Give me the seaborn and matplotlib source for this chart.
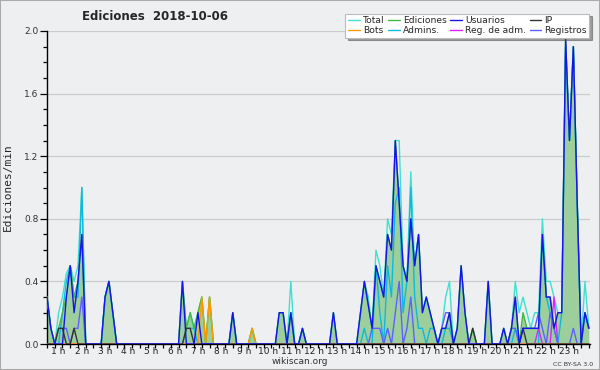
import numpy as np
import pandas as pd
import matplotlib
matplotlib.use("Agg")
from matplotlib import pyplot as plt
from matplotlib.lines import Line2D
from matplotlib.patches import Rectangle
import seaborn as sns

# Ediciones por tramos de 10 minutos (desde 00:30), ediciones/min
usuarios = [0.3, 0.1, 0, 0, 0, 0.3, 0.5, 0.2, 0.4, 0.7,
            0, 0, 0, 0, 0, 0.3, 0.4, 0.2, 0, 0,
            0, 0, 0, 0, 0, 0, 0, 0, 0, 0,
            0, 0, 0, 0, 0, 0.4, 0, 0, 0, 0.2,
            0, 0, 0, 0, 0, 0, 0, 0, 0.2, 0,
            0, 0, 0, 0, 0, 0, 0, 0, 0, 0,
            0.2, 0.2, 0, 0.2, 0, 0, 0.1, 0, 0, 0,
            0, 0, 0, 0, 0.2, 0, 0, 0, 0, 0,
            0, 0.2, 0.4, 0.25, 0.1, 0.5, 0.4, 0.3, 0.7, 0.6,
            1.3, 0.9, 0.5, 0.4, 0.8, 0.5, 0.7, 0.2, 0.3, 0.2,
            0.1, 0, 0.1, 0.1, 0.2, 0, 0.1, 0.5, 0.2, 0,
            0, 0, 0, 0, 0.4, 0, 0, 0, 0.1, 0,
            0.1, 0.3, 0, 0.1, 0.1, 0.1, 0.1, 0.1, 0.7, 0.3,
            0.3, 0.1, 0.2, 0.2, 1.95, 1.3, 1.9, 0.9, 0, 0.2,
            0.1]

total = [0.3, 0.1, 0, 0.2, 0.3, 0.45, 0.5, 0.4, 0.5, 1.0,
         0, 0, 0, 0, 0, 0.3, 0.4, 0.2, 0, 0,
         0, 0, 0, 0, 0, 0, 0, 0, 0, 0,
         0, 0, 0, 0, 0, 0.4, 0.1, 0.2, 0.1, 0.2,
         0.3, 0, 0.3, 0, 0, 0, 0, 0, 0.2, 0,
         0, 0, 0, 0.1, 0, 0, 0, 0, 0, 0,
         0.2, 0.2, 0, 0.4, 0, 0, 0.1, 0, 0, 0,
         0, 0, 0, 0, 0.2, 0, 0, 0, 0, 0,
         0, 0.2, 0.4, 0.3, 0.1, 0.6, 0.5, 0.3, 0.8, 0.7,
         1.3, 1.3, 0.5, 0.4, 1.1, 0.5, 0.7, 0.2, 0.3, 0.2,
         0.1, 0, 0.1, 0.3, 0.4, 0, 0.1, 0.5, 0.2, 0,
         0.1, 0, 0, 0, 0.4, 0, 0, 0, 0.1, 0,
         0.1, 0.4, 0.2, 0.3, 0.2, 0.1, 0.2, 0.2, 0.8, 0.4,
         0.4, 0.3, 0.2, 0.2, 1.9, 1.3, 1.9, 0.9, 0, 0.4,
         0.1]

ediciones = [0.3, 0.1, 0, 0.1, 0.2, 0.3, 0.5, 0.3, 0.4, 0.7,
             0, 0, 0, 0, 0, 0.3, 0.4, 0.2, 0, 0,
             0, 0, 0, 0, 0, 0, 0, 0, 0, 0,
             0, 0, 0, 0, 0, 0.4, 0.1, 0.2, 0.1, 0.2,
             0.3, 0, 0.3, 0, 0, 0, 0, 0, 0.2, 0,
             0, 0, 0, 0.1, 0, 0, 0, 0, 0, 0,
             0.2, 0.2, 0, 0.2, 0, 0, 0.1, 0, 0, 0,
             0, 0, 0, 0, 0.2, 0, 0, 0, 0, 0,
             0, 0.2, 0.4, 0.25, 0.1, 0.5, 0.4, 0.3, 0.7, 0.6,
             1.3, 0.9, 0.5, 0.4, 0.8, 0.5, 0.7, 0.2, 0.3, 0.2,
             0.1, 0, 0.1, 0.1, 0.2, 0, 0.1, 0.5, 0.2, 0,
             0.1, 0, 0, 0, 0.4, 0, 0, 0, 0.1, 0,
             0.1, 0.3, 0, 0.2, 0.1, 0.1, 0.1, 0.1, 0.7, 0.3,
             0.3, 0.1, 0.2, 0.2, 1.95, 1.3, 1.9, 0.9, 0, 0.2,
             0.1]

ip = [0, 0, 0, 0.1, 0.1, 0, 0, 0.1, 0, 0,
      0, 0, 0, 0, 0, 0, 0, 0, 0, 0,
      0, 0, 0, 0, 0, 0, 0, 0, 0, 0,
      0, 0, 0, 0, 0, 0, 0.1, 0.1, 0, 0,
      0, 0, 0, 0, 0, 0, 0, 0, 0, 0,
      0, 0, 0, 0, 0, 0, 0, 0, 0, 0,
      0, 0, 0, 0, 0, 0, 0, 0, 0, 0,
      0, 0, 0, 0, 0, 0, 0, 0, 0, 0,
      0, 0, 0, 0, 0, 0, 0, 0, 0, 0,
      0, 0, 0, 0, 0, 0, 0, 0, 0, 0,
      0, 0, 0, 0, 0, 0, 0, 0, 0, 0,
      0.1, 0, 0, 0, 0, 0, 0, 0, 0, 0,
      0, 0, 0, 0.1, 0, 0, 0, 0, 0, 0,
      0, 0, 0, 0, 0, 0, 0, 0, 0, 0,
      0]

bots = [0, 0, 0, 0, 0, 0, 0, 0, 0, 0,
        0, 0, 0, 0, 0, 0, 0, 0, 0, 0,
        0, 0, 0, 0, 0, 0, 0, 0, 0, 0,
        0, 0, 0, 0, 0, 0, 0, 0, 0, 0,
        0.3, 0, 0.3, 0, 0, 0, 0, 0, 0, 0,
        0, 0, 0, 0.1, 0, 0, 0, 0, 0, 0,
        0, 0, 0, 0, 0, 0, 0, 0, 0, 0,
        0, 0, 0, 0, 0, 0, 0, 0, 0, 0,
        0, 0, 0, 0, 0, 0, 0, 0, 0, 0,
        0, 0, 0, 0, 0, 0, 0, 0, 0, 0,
        0, 0, 0, 0, 0, 0, 0, 0, 0, 0,
        0, 0, 0, 0, 0, 0, 0, 0, 0, 0,
        0, 0, 0, 0, 0, 0, 0, 0, 0, 0,
        0, 0, 0, 0, 0, 0, 0, 0, 0, 0,
        0]

admins = [0.3, 0.1, 0, 0, 0.2, 0.4, 0.5, 0.3, 0.3, 1.0,
          0, 0, 0, 0, 0, 0.3, 0.4, 0.2, 0, 0,
          0, 0, 0, 0, 0, 0, 0, 0, 0, 0,
          0, 0, 0, 0, 0, 0, 0.1, 0.1, 0.1, 0,
          0, 0, 0, 0, 0, 0, 0, 0, 0.2, 0,
          0, 0, 0, 0, 0, 0, 0, 0, 0, 0,
          0, 0, 0, 0.2, 0, 0, 0.1, 0, 0, 0,
          0, 0, 0, 0, 0, 0, 0, 0, 0, 0,
          0, 0, 0.1, 0, 0, 0.5, 0.2, 0, 0.5, 0.3,
          0.9, 1.0, 0.2, 0.4, 1.0, 0.3, 0.1, 0.1, 0, 0.1,
          0.1, 0, 0, 0.1, 0.1, 0, 0, 0, 0, 0,
          0, 0, 0, 0, 0, 0, 0, 0, 0, 0,
          0, 0.1, 0, 0, 0, 0, 0, 0, 0.7, 0.3,
          0.2, 0.1, 0, 0.2, 1.9, 1.3, 1.9, 0.9, 0, 0.2,
          0.1]

reg_adm = [0] * 127 + [0.1, 0, 0, 0, 0.3, 0, 0, 0, 0, 0, 0, 0, 0, 0]

registros = [0, 0, 0, 0.1, 0.1, 0.1, 0, 0.1, 0.1, 0.3,
             0, 0, 0, 0, 0, 0, 0, 0, 0, 0,
             0, 0, 0, 0, 0, 0, 0, 0, 0, 0,
             0, 0, 0, 0, 0, 0, 0, 0, 0, 0,
             0, 0, 0, 0, 0, 0, 0, 0, 0, 0,
             0, 0, 0, 0, 0, 0, 0, 0, 0, 0,
             0, 0, 0, 0, 0, 0, 0, 0, 0, 0,
             0, 0, 0, 0, 0, 0, 0, 0, 0, 0,
             0, 0, 0, 0, 0.1, 0.1, 0.1, 0, 0.1, 0,
             0.2, 0.4, 0, 0.1, 0.3, 0, 0, 0, 0, 0,
             0, 0, 0.1, 0.2, 0.2, 0, 0, 0, 0, 0,
             0, 0, 0, 0, 0, 0, 0, 0, 0, 0,
             0.1, 0.1, 0, 0.1, 0.1, 0.1, 0.1, 0.2, 0.1, 0,
             0.2, 0.1, 0, 0, 0, 0, 0.1, 0, 0, 0.2,
             0.1]

horas = list(range(1, 24))

colores = {
    "Total": "#40e0d0",
    "Ediciones": "#44b844",
    "Usuarios": "#1414ee",
    "IP": "#333333",
    "Bots": "#ff9900",
    "Admins.": "#10b8dc",
    "Reg. de adm.": "#dd22ff",
    "Registros": "#6060ff",
}
series = {
    "Total": total, "Ediciones": ediciones, "Usuarios": usuarios, "IP": ip,
    "Bots": bots, "Admins.": admins, "Reg. de adm.": reg_adm, "Registros": registros,
}

frames = []
for nombre, vals in series.items():
    frames.append(pd.DataFrame({"tramo": np.arange(len(vals)), "valor": vals, "serie": nombre}))
df = pd.concat(frames, ignore_index=True)

sns.set_theme(style="white")
plt.rcParams["font.family"] = ["DejaVu Sans"]
bg = "#eeeff1"

fig = plt.figure(figsize=(6, 3.7), dpi=100, facecolor=bg)
ax = fig.add_axes([47 / 600, 1 - 344 / 370, 543 / 600, 313 / 370], facecolor=bg)

# area verde de ediciones
ax.fill_between(np.arange(len(ediciones)), ediciones, 0, color="#9dcf9d", lw=0, zorder=1)

orden = ["Total", "Admins.", "Registros", "Reg. de adm.", "Ediciones", "Bots", "IP", "Usuarios"]
sns.lineplot(data=df, x="tramo", y="valor", hue="serie", hue_order=orden,
             palette=colores, estimator=None, legend=False, lw=1.0, ax=ax, zorder=3)

ax.set_xlim(0, 140.3)
ax.set_ylim(0, 2.0)
ax.set_yticks(np.arange(0, 2.01, 0.4))
ax.set_yticklabels([f"{v:.1f}" for v in np.arange(0, 2.01, 0.4)])
ax.set_yticks(np.arange(0, 2.01, 0.1), minor=True)
ax.yaxis.grid(True, color="#cccccc", lw=0.9)
ax.set_axisbelow(True)
ax.set_xticks([6 * h - 3 for h in horas])
ax.set_xticklabels([f"{h} h" for h in horas])
ax.set_xticks(np.arange(0, 141, 2), minor=True)
ax.tick_params(axis="x", which="major", length=0, pad=2, labelsize=6.5, colors="#222222")
ax.tick_params(axis="x", which="minor", length=3, width=0.9, color="black", direction="out", bottom=True)
ax.tick_params(axis="y", which="major", length=5, width=0.9, color="black", direction="out", left=True,
               labelsize=6.5, pad=1, labelcolor="#333333")
ax.tick_params(axis="y", which="minor", length=3, width=0.9, color="black", direction="out", left=True)
for s in ["top", "right"]:
    ax.spines[s].set_visible(False)
for s in ["left", "bottom"]:
    ax.spines[s].set_color("black")
    ax.spines[s].set_linewidth(1.0)
ax.set_xlabel("")
ax.set_ylabel("Ediciones/min", fontsize=8, family="DejaVu Sans Mono", labelpad=8)

fig.text(155 / 600, 1 - 17 / 370, "Ediciones  2018-10-06", ha="center", va="center",
         fontsize=8.5, fontweight="bold")
fig.text(300 / 600, 1 - 361 / 370, "wikiscan.org", ha="center", va="center", fontsize=6.5, color="#333333")
fig.text(593 / 600, 1 - 364 / 370, "CC BY-SA 3.0", ha="right", va="center", fontsize=4.5, color="#333333")

ley_orden = ["Total", "Bots", "Ediciones", "Admins.", "Usuarios", "Reg. de adm.", "IP", "Registros"]
handles = [Line2D([0], [0], color=colores[n], lw=1.0) for n in ley_orden]
leg = fig.legend(handles, ley_orden, ncol=4, loc="upper right", bbox_to_anchor=(594 / 600, 1 - 9 / 370),
                 fontsize=6.6, frameon=True, fancybox=False, shadow=True, handlelength=1.3,
                 handletextpad=0.3, columnspacing=0.4, labelspacing=0.05, borderpad=0.3)
leg.get_frame().set_facecolor("white")
leg.get_frame().set_edgecolor("#bbbbbb")
leg.get_frame().set_linewidth(0.8)

fig.patches.append(Rectangle((0, 0), 1, 1, transform=fig.transFigure, fill=False,
                             edgecolor="#aaaaaa", lw=1.5))

fig.savefig("out.png", dpi=100, facecolor=bg)
